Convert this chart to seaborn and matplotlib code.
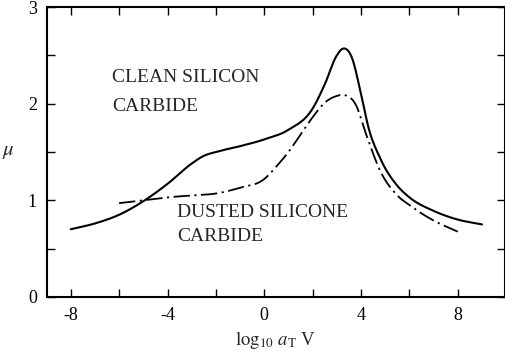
import matplotlib
matplotlib.use("Agg")
import matplotlib.pyplot as plt
import seaborn as sns
import pandas as pd
import numpy as np

# Data
clean_x = [-8, -7, -6, -5, -4, -3, -2.5, -2, -1, 0, 1, 2, 2.5, 3, 3.25, 3.6, 4, 4.3, 4.8, 5.5, 6, 7, 8, 9]
clean_y = [0.70, 0.76, 0.85, 0.99, 1.17, 1.38, 1.46, 1.50, 1.56, 1.63, 1.73, 1.95, 2.20, 2.50, 2.57, 2.49, 2.10, 1.76, 1.43, 1.15, 1.03, 0.89, 0.80, 0.75]

dusted_x = [-6, -5, -4, -3, -2, -1, 0, 0.5, 1, 1.5, 2, 2.5, 3, 3.3, 3.8, 4.2, 4.8, 5.5, 6, 7, 8]
dusted_y = [0.97, 1.0, 1.03, 1.05, 1.07, 1.13, 1.22, 1.35, 1.50, 1.68, 1.86, 2.01, 2.08, 2.09, 1.98, 1.69, 1.30, 1.05, 0.95, 0.79, 0.675]

x_ticks = [-8, -6, -4, -2, 0, 2, 4, 6, 8]
x_labels = ["-8", "", "-4", "", "0", "", "4", "", "8"]
y_ticks = [0, 0.5, 1, 1.5, 2, 2.5, 3]
y_labels = ["0", "", "1", "", "2", "", "3"]

sns.set_style("ticks")
plt.rcParams['font.family'] = ['Liberation Serif', 'DejaVu Serif']
plt.rcParams['mathtext.fontset'] = 'stix'

fig = plt.figure(figsize=(5.06, 3.53), dpi=100)
ax = fig.add_axes([0.092, 0.159, 0.906, 0.821])

def smooth(xs, ys, n=300):
    xs = np.asarray(xs, float); ys = np.asarray(ys, float)
    t = np.linspace(xs[0], xs[-1], n)
    m = np.gradient(ys, xs)
    out = np.empty_like(t)
    for i, tv in enumerate(t):
        k = min(np.searchsorted(xs, tv, side='right') - 1, len(xs) - 2)
        h = xs[k+1] - xs[k]
        s = (tv - xs[k]) / h
        h00 = 2*s**3 - 3*s**2 + 1; h10 = s**3 - 2*s**2 + s
        h01 = -2*s**3 + 3*s**2; h11 = s**3 - s**2
        out[i] = h00*ys[k] + h10*h*m[k] + h01*ys[k+1] + h11*h*m[k+1]
    return t, out

cx, cy = smooth(clean_x, clean_y)
dx, dy = smooth(dusted_x, dusted_y)
df_c = pd.DataFrame({"x": cx, "y": cy})
df_d = pd.DataFrame({"x": dx, "y": dy})

sns.lineplot(data=df_c, x="x", y="y", ax=ax, color="black", linewidth=1.5, sort=False)
sns.lineplot(data=df_d, x="x", y="y", ax=ax, color="black", linewidth=1.3, sort=False,
             linestyle=(0, (9, 2.5, 1.2, 2.5)))

ax.set_xlim(-9.0, 9.95)
ax.set_ylim(0, 3.0)
ax.set_xticks(x_ticks)
ax.set_xticklabels(x_labels)
ax.set_yticks(y_ticks)
ax.set_yticklabels(y_labels)
ax.tick_params(direction="in", length=6, width=1.0, top=True, right=True,
               labelsize=13, pad=7, colors="black")
for s in ax.spines.values():
    s.set_linewidth(1.5)
    s.set_color("black")

ax.set_xlabel(r"$\log_{10}\,a_{\mathrm{T}}$ V", fontsize=13.5, labelpad=4)
ax.set_ylabel(r"$\mu$", fontsize=15, rotation=0, labelpad=14, va="center")

ax.text(-6.3, 2.27, "CLEAN SILICON", fontsize=14, va="center", ha="left")
ax.text(-6.3, 1.97, "CARBIDE", fontsize=14, va="center", ha="left")
ax.text(-3.6, 0.87, "DUSTED SILICONE", fontsize=14, va="center", ha="left")
ax.text(-3.6, 0.63, "CARBIDE", fontsize=14, va="center", ha="left")

fig.savefig("out.png", dpi=100)
